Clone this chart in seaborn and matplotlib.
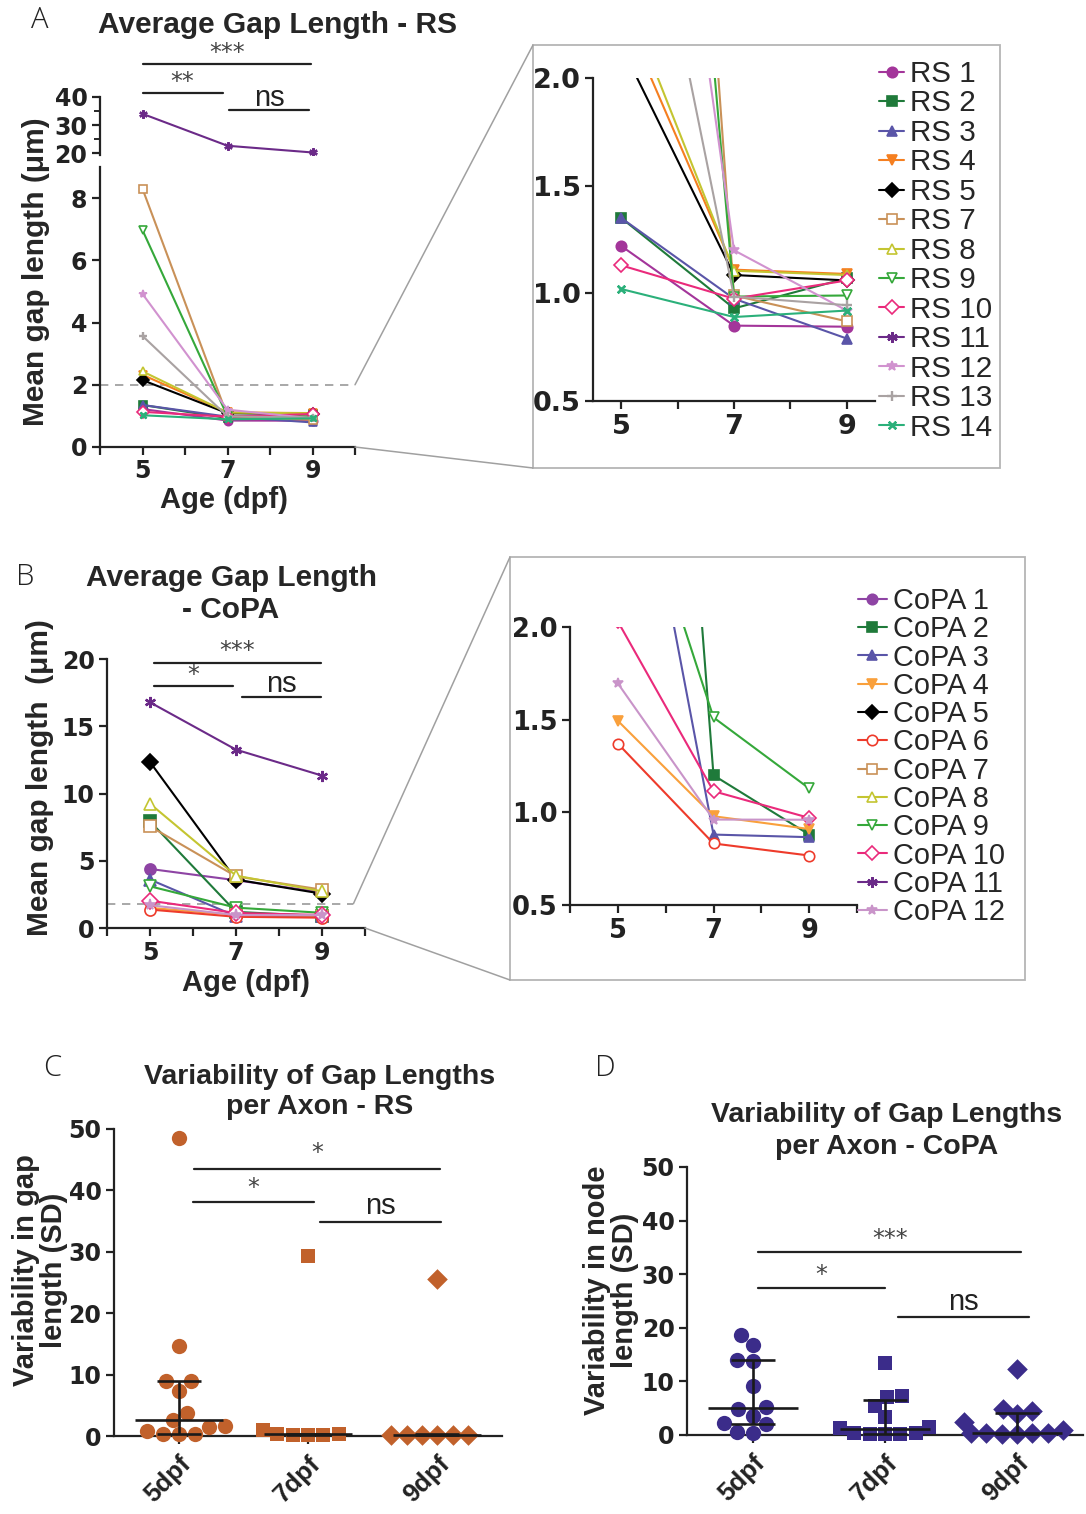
import numpy as np
import pandas as pd
import matplotlib
matplotlib.use("Agg")
import matplotlib.pyplot as plt
import seaborn as sns
from matplotlib.transforms import blended_transform_factory
from matplotlib.patches import Rectangle, ConnectionPatch
from matplotlib.lines import Line2D

# ---------------- data ----------------
ages = [5, 7, 9]

rs_names = ["RS 1", "RS 2", "RS 3", "RS 4", "RS 5", "RS 7", "RS 8",
            "RS 9", "RS 10", "RS 11", "RS 12", "RS 13", "RS 14"]
rs_values = [
    [1.22, 0.85, 0.845],
    [1.35, 0.93, 1.07],
    [1.35, 0.975, 0.79],
    [2.32, 1.11, 1.09],
    [2.15, 1.085, 1.06],
    [8.30, 0.99, 0.87],
    [2.43, 1.105, 1.085],
    [6.97, 0.985, 0.99],
    [1.13, 0.975, 1.06],
    [34.0, 22.6, 20.2],
    [4.92, 1.20, 0.92],
    [3.57, 0.985, 0.945],
    [1.02, 0.89, 0.92],
]

copa_names = ["CoPA 1", "CoPA 2", "CoPA 3", "CoPA 4", "CoPA 5", "CoPA 6",
              "CoPA 7", "CoPA 8", "CoPA 9", "CoPA 10", "CoPA 11", "CoPA 12"]
copa_values = [
    [4.39, 3.55, 2.65],
    [7.93, 1.20, 0.88],
    [3.60, 0.88, 0.866],
    [1.494, 0.979, 0.91],
    [12.34, 3.60, 2.55],
    [1.371, 0.832, 0.767],
    [7.56, 3.84, 2.85],
    [9.24, 3.89, 2.73],
    [3.10, 1.512, 1.129],
    [2.03, 1.114, 0.97],
    [16.78, 13.26, 11.33],
    [1.696, 0.961, 0.96],
]

sd_cats = ["5dpf", "7dpf", "9dpf"]
rs_sd = {
    "5dpf": [48.5, 14.6, 9.0, 9.0, 7.4, 3.7, 2.6, 1.5, 1.6, 0.8, 0.3, 0.3, 0.3],
    "7dpf": [29.3, 1.0, 0.3, 0.2, 0.2, 0.2, 0.3],
    "9dpf": [25.6, 0.2, 0.2, 0.2, 0.2, 0.2, 0.2],
}
rs_sd_median = [2.6, 0.25, 0.2]
rs_sd_q1 = [0.4, 0.2, 0.15]
rs_sd_q3 = [9.0, 0.4, 0.3]

copa_sd = {
    "5dpf": [18.6, 16.8, 13.9, 13.8, 9.1, 5.25, 4.8, 3.6, 2.2, 2.0, 0.55, 0.45],
    "7dpf": [13.4, 7.3, 7.1, 5.4, 3.4, 1.5, 1.3, 0.3, 0.1, 0.1, 0.1, 0.3],
    "9dpf": [12.4, 4.9, 4.5, 3.9, 2.4, 0.9, 0.4, 0.3, 0.3, 0.2, 0.2, 0.3],
}
copa_sd_median = [5.0, 1.2, 0.4]
copa_sd_q1 = [2.0, 0.2, 0.1]
copa_sd_q3 = [13.9, 6.6, 4.1]

# ---------------- styles per axon ----------------
AST = (6, 2, 0)
rs_styles = [
    ("#a3359a", "o", True), ("#1f7a3a", "s", True), ("#5a55a8", "^", True),
    ("#f57f20", "v", True), ("#000000", "D", True), ("#c99158", "s", False),
    ("#c4c531", "^", False), ("#35a83a", "v", False), ("#ea2a7b", "D", False),
    ("#6b2a88", AST, True), ("#d192cf", "*", True), ("#a9a2a2", "+", True),
    ("#2bb07a", (4, 2, 45), True),
]
copa_styles = [
    ("#8e44a4", "o", True), ("#1f7a3a", "s", True), ("#5a55a8", "^", True),
    ("#f9a03c", "v", True), ("#000000", "D", True), ("#ee3b2b", "o", False),
    ("#c99158", "s", False), ("#c4c531", "^", False), ("#35a83a", "v", False),
    ("#ea2a7b", "D", False), ("#6b2a88", AST, True), ("#c994c9", "*", True),
]

sns.set_theme(style="ticks")
plt.rcParams["font.family"] = ["Liberation Sans", "DejaVu Sans"]
plt.rcParams["font.weight"] = "bold"
plt.rcParams["axes.linewidth"] = 1.6
plt.rcParams["axes.edgecolor"] = "#222222"

W, H = 1086, 1514
fig = plt.figure(figsize=(W / 100, H / 100), dpi=100)


def fx(x):
    return x / W


def fy(y):
    return 1 - y / H


def axes_px(l, t, r, b):
    return fig.add_axes([fx(l), fy(b), (r - l) / W, (b - t) / H])


def gp_axes(ax):
    sns.despine(ax=ax)
    ax.tick_params(direction="out", length=6, width=1.6, colors="#222222", pad=3)
    ax.tick_params(which="minor", direction="out", length=4, width=1.4)
    ax.set_facecolor("none")
    ax.set_xlabel("")
    ax.set_ylabel("")


def tick_font(ax, size, xsize=None, xfamily="DejaVu Sans"):
    for lbl in ax.get_yticklabels():
        lbl.set_fontfamily("DejaVu Sans")
        lbl.set_fontsize(size)
        lbl.set_fontweight("bold")
    for lbl in ax.get_xticklabels():
        lbl.set_fontfamily(xfamily)
        lbl.set_fontsize(xsize or size)
        lbl.set_fontweight("bold")


def draw_series(ax, names, values, styles, ms, lw=1.5):
    handles = []
    for name, vals, (c, m, filled) in zip(names, values, styles):
        mfc = c if filled else "white"
        mew = 1.7 if (m == "+" or isinstance(m, tuple)) else 1.2
        sns.lineplot(x=ages, y=vals, ax=ax, color=c, marker=m, markersize=ms,
                     markerfacecolor=mfc, markeredgecolor=c, markeredgewidth=mew,
                     linewidth=lw, errorbar=None, legend=False)
        handles.append(ax.lines[-1])
    return handles


def sig(ax, x0, x1, y_line, text, y_text, size, star=False):
    tr = blended_transform_factory(ax.transData, fig.transFigure)
    ax.add_line(Line2D([x0, x1], [fy(y_line)] * 2, transform=tr, color="#222222",
                       lw=1.6, clip_on=False))
    if star:
        ax.text((x0 + x1) / 2, fy(y_text), text, transform=tr, ha="center",
                va="center", fontsize=size, fontweight="normal", color="#444444",
                family=["DejaVu Sans"])
    else:
        ax.text((x0 + x1) / 2, fy(y_text), text, transform=tr, ha="center",
                va="center", fontsize=size, fontweight="normal", color="#222222")


def letter(x, y, s):
    fig.text(fx(x), fy(y), s, ha="center", va="center", fontsize=21,
             fontweight="light", family=["Open Sans", "DejaVu Sans"], color="#222222")


# ================= Panel A =================
axA_hi = axes_px(100, 97, 355, 155)
axA_lo = axes_px(100, 167, 355, 447)
for ax in (axA_hi, axA_lo):
    draw_series(ax, rs_names, rs_values, rs_styles, ms=6)
    gp_axes(ax)
    ax.set_xlim(4, 10)

axA_hi.set_ylim(19.3, 40)
axA_hi.set_yticks([20, 30, 40])
axA_hi.set_yticks([25, 35], minor=True)
axA_hi.spines["bottom"].set_visible(False)
axA_hi.set_xticks([])
tick_font(axA_hi, 17)

axA_lo.set_ylim(0, 9)
axA_lo.set_yticks([0, 2, 4, 6, 8])
axA_lo.set_xticks([4, 5, 6, 7, 8, 9, 10])
axA_lo.set_xticklabels(["", "5", "", "7", "", "9", ""])
axA_lo.axhline(2.0, color="#9a9a9a", lw=1.2, ls=(0, (5, 4)), zorder=0)
tick_font(axA_lo, 17)

fig.text(fx(277), fy(25), "Average Gap Length - RS", ha="center", va="center",
         fontsize=21.5, fontweight="bold")
letter(40, 20, "A")
fig.text(fx(36), fy(272), "Mean gap length (μm)", rotation=90, ha="center",
         va="center", fontsize=21.5, fontweight="bold")
fig.text(fx(224), fy(500), "Age (dpf)", ha="center", va="center", fontsize=21,
         fontweight="bold")

sig(axA_hi, 5.02, 8.97, 64, "***", 53, 17, star=True)
sig(axA_hi, 5.0, 6.89, 93, "**", 82, 17, star=True)
sig(axA_hi, 7.03, 8.92, 110, "ns", 98, 21)

# inset A
axA_in = axes_px(593, 78, 875, 401)
hA = draw_series(axA_in, rs_names, rs_values, rs_styles, ms=7.5)
gp_axes(axA_in)
axA_in.set_xlim(4.5, 9.5)
axA_in.set_ylim(0.5, 2.0)
axA_in.set_yticks([0.5, 1.0, 1.5, 2.0])
axA_in.set_yticklabels(["0.5", "1.0", "1.5", "2.0"])
axA_in.set_xticks([5, 6, 7, 8, 9])
axA_in.set_xticklabels(["5", "", "7", "", "9"])
tick_font(axA_in, 19.5)
axA_in.legend(hA, rs_names, loc="upper left", bbox_to_anchor=(fx(879), fy(60)),
              bbox_transform=fig.transFigure, frameon=False,
              prop=dict(family="Liberation Sans", weight="normal", size=21.3),
              handlelength=0.85, handletextpad=0.2, labelspacing=0.05,
              borderpad=0, borderaxespad=0, numpoints=1)

fig.add_artist(Rectangle((fx(533), fy(468)), (1000 - 533) / W, (468 - 45) / H,
                         transform=fig.transFigure, fill=False,
                         edgecolor="#b5b5b5", lw=1.3))
fig.add_artist(ConnectionPatch(xyA=(10, 2.0), coordsA=axA_lo.transData,
                               xyB=(fx(533), fy(45)), coordsB=fig.transFigure,
                               color="#a0a0a0", lw=1.1))
fig.add_artist(ConnectionPatch(xyA=(10, 0), coordsA=axA_lo.transData,
                               xyB=(fx(533), fy(468)), coordsB=fig.transFigure,
                               color="#a0a0a0", lw=1.1))

# ================= Panel B =================
axB = axes_px(107, 659, 365, 928)
draw_series(axB, copa_names, copa_values, copa_styles, ms=8)
gp_axes(axB)
axB.set_xlim(4, 10)
axB.set_ylim(0, 20)
axB.set_yticks([0, 5, 10, 15, 20])
axB.set_xticks([4, 5, 6, 7, 8, 9, 10])
axB.set_xticklabels(["", "5", "", "7", "", "9", ""])
axB.axhline(1.8, xmax=0.955, color="#9a9a9a", lw=1.2, ls=(0, (5, 4)), zorder=0)
tick_font(axB, 17)

fig.text(fx(231), fy(594), "Average Gap Length\n- CoPA", ha="center", va="center",
         fontsize=21.5, fontweight="bold", linespacing=1.15)
letter(25, 577, "B")
fig.text(fx(40), fy(778), "Mean gap length  (μm)", rotation=90, ha="center",
         va="center", fontsize=21.5, fontweight="bold")
fig.text(fx(246), fy(983), "Age (dpf)", ha="center", va="center", fontsize=21,
         fontweight="bold")

sig(axB, 5.09, 8.97, 663, "***", 651, 17, star=True)
sig(axB, 5.09, 6.94, 686, "*", 675, 17, star=True)
sig(axB, 7.13, 8.97, 697, "ns", 684, 21)

axB_in = axes_px(570, 627, 857, 905)
hB = draw_series(axB_in, copa_names, copa_values, copa_styles, ms=7.5)
gp_axes(axB_in)
axB_in.set_xlim(4, 10)
axB_in.set_ylim(0.5, 2.0)
axB_in.set_yticks([0.5, 1.0, 1.5, 2.0])
axB_in.set_yticklabels(["0.5", "1.0", "1.5", "2.0"])
axB_in.set_xticks([4, 5, 6, 7, 8, 9, 10])
axB_in.set_xticklabels(["", "5", "", "7", "", "9", ""])
tick_font(axB_in, 18.5)
axB_in.legend(hB, copa_names, loc="upper left", bbox_to_anchor=(fx(858), fy(587)),
              bbox_transform=fig.transFigure, frameon=False,
              prop=dict(family="Liberation Sans", weight="normal", size=20.8),
              handlelength=1.0, handletextpad=0.2, labelspacing=0.01,
              borderpad=0, borderaxespad=0, numpoints=1)

fig.add_artist(Rectangle((fx(510), fy(980)), (1025 - 510) / W, (980 - 557) / H,
                         transform=fig.transFigure, fill=False,
                         edgecolor="#b5b5b5", lw=1.3))
fig.add_artist(ConnectionPatch(xyA=(9.73, 1.8), coordsA=axB.transData,
                               xyB=(fx(510), fy(557)), coordsB=fig.transFigure,
                               color="#a0a0a0", lw=1.1))
fig.add_artist(ConnectionPatch(xyA=(10, 0), coordsA=axB.transData,
                               xyB=(fx(510), fy(980)), coordsB=fig.transFigure,
                               color="#a0a0a0", lw=1.1))


# ================= Panels C & D =================
def scatter_panel(ax, groups, med, q1, q3, color, markers, sizes):
    for cat, mk, sz in zip(sd_cats, markers, sizes):
        sub = pd.DataFrame({"age": [cat] * len(groups[cat]), "sd": groups[cat]})
        sns.swarmplot(data=sub, x="age", y="sd", order=sd_cats, marker=mk,
                      color=color, size=sz, linewidth=0, ax=ax, zorder=3)
    for coll in ax.collections:
        coll.set_clip_on(False)
    pos = np.arange(len(sd_cats))
    kw = dict(color="#1a1a1a", lw=1.9, zorder=4, clip_on=False)
    ax.hlines(med, pos - 0.34, pos + 0.34, **kw)
    ax.hlines(q1, pos - 0.17, pos + 0.17, **kw)
    ax.hlines(q3, pos - 0.17, pos + 0.17, **kw)
    ax.vlines(pos, q1, q3, **kw)
    gp_axes(ax)
    ax.set_xlim(-0.5, 2.5)
    ax.set_ylim(0, 50)
    ax.set_yticks([0, 10, 20, 30, 40, 50])
    ax.set_xticks(pos)
    ax.set_xticklabels(sd_cats, rotation=45, ha="right", rotation_mode="anchor")
    ax.tick_params(axis="x", pad=5)
    tick_font(ax, 17, xsize=18.5, xfamily="Liberation Sans")


axC = axes_px(114, 1129, 502, 1436)
scatter_panel(axC, rs_sd, rs_sd_median, rs_sd_q1, rs_sd_q3, "#c1612b",
              ["o", "s", "D"], [11, 10.5, 10.5])
fig.text(fx(320), fy(1092), "Variability of Gap Lengths\nper Axon - RS",
         ha="center", va="center", fontsize=20.5, fontweight="bold",
         linespacing=1.25)
letter(52, 1068, "C")
fig.text(fx(40), fy(1270), "Variability in gap\nlength (SD)", rotation=90,
         ha="center", va="center", fontsize=21, fontweight="bold",
         linespacing=1.0)
sig(axC, 0.12, 2.02, 1169, "*", 1153, 17, star=True)
sig(axC, 0.11, 1.05, 1202, "*", 1188, 17, star=True)
sig(axC, 1.09, 2.03, 1222, "ns", 1206, 21)

axD = axes_px(687, 1167, 1083, 1435)
scatter_panel(axD, copa_sd, copa_sd_median, copa_sd_q1, copa_sd_q3, "#3b2c8a",
              ["o", "s", "D"], [11, 10.5, 10.5])
fig.text(fx(887), fy(1131), "Variability of Gap Lengths\nper Axon - CoPA",
         ha="center", va="center", fontsize=20.5, fontweight="bold",
         linespacing=1.25)
letter(605, 1068, "D")
fig.text(fx(611), fy(1290), "Variability in node\nlength (SD)", rotation=90,
         ha="center", va="center", fontsize=21, fontweight="bold",
         linespacing=1.0)
sig(axD, 0.04, 2.03, 1252, "***", 1239, 17, star=True)
sig(axD, 0.04, 1.0, 1288, "*", 1275, 17, star=True)
sig(axD, 1.1, 2.09, 1317, "ns", 1302, 21)

fig.savefig("out.png", dpi=100, facecolor="white")
